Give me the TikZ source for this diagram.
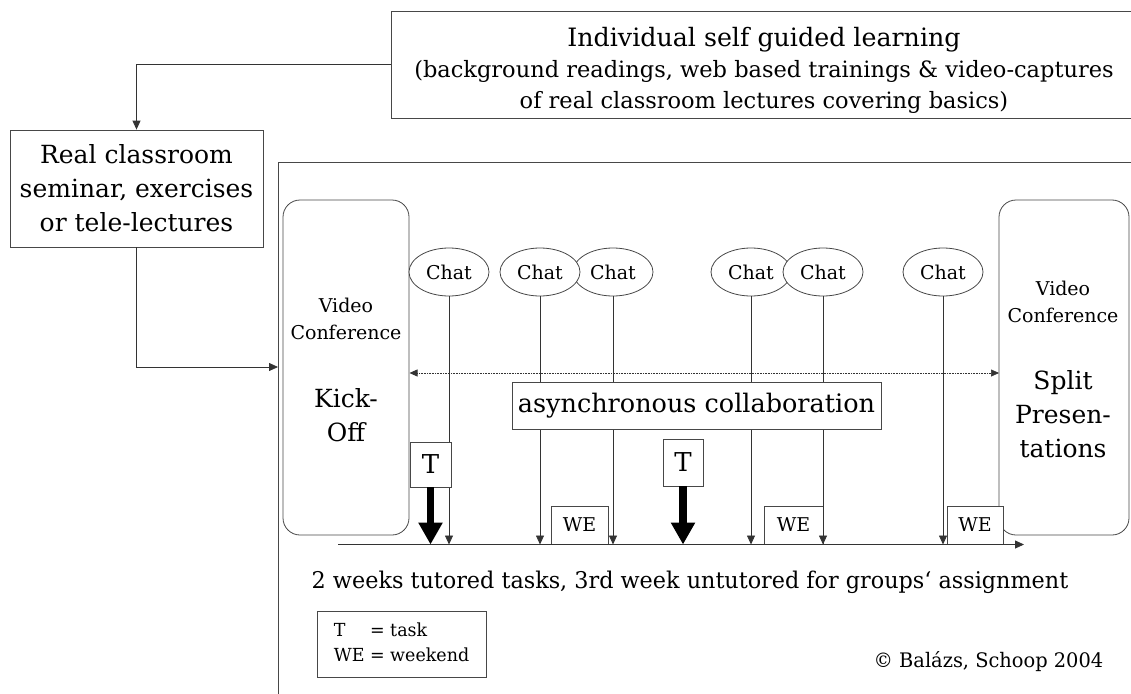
\documentclass[tikz,border=0pt]{standalone}
\usepackage{fontspec}
\setmainfont{DejaVu Serif}
\newfontfamily\condfont[FakeStretch=0.97]{DejaVu Serif}
\usetikzlibrary{shapes.geometric,arrows.meta}
\newcommand\fsz[2]{\fontsize{#1}{#2}\selectfont}
\begin{document}
\begin{tikzpicture}[x=1pt,y=-1pt,line width=0.8pt,
  box/.style={draw=black!72,fill=white,inner sep=0pt,align=center},
  rbox/.style={box,rounded corners=17pt},
  chat/.style={ellipse,draw=black!72,fill=white,minimum width=80pt,minimum height=48pt,inner sep=0pt,font=\fsz{19}{22}},
  conn/.style={draw=black!80,-{Triangle[length=9pt,width=8pt]}},
  bigarrow/.style={draw=black,line width=7.5pt,-{Triangle[length=22pt,width=23pt]}},
  dotarrow/.style={draw=black!80,densely dotted,line width=0.6pt,{Triangle[length=8pt,width=7pt]}-{Triangle[length=8pt,width=7pt]}},
  tbox/.style={box,font=\fsz{26}{30}},
  webox/.style={box,font=\fsz{19}{22}}]
\useasboundingbox (0,0) rectangle (1131,693);
\clip (0,0) rectangle (1131,693);
\fill[white] (0,0) rectangle (1131,693);

% top box
\node[box,minimum width=760pt,minimum height=107pt] (top) at (771,64.5) {};
\node[font=\fsz{22.5}{31},align=center] (toptext) at (764,70)
  {{\fsz{25.3}{31}Individual self guided learning}\\(background readings, web based trainings \& video-captures\\of real classroom lectures covering basics)};

% left box
\node[box,minimum width=253pt,minimum height=117pt,font=\fsz{25}{34}] (left) at (136.5,188.5)
  {Real classroom\\seminar, exercises\\or tele-lectures};

% main frame
\coordinate (mTL) at (278,162);
\coordinate (mBL) at (278,700);
\coordinate (mTR) at (1140,162);
\draw[draw=black!72] (mBL) -- (mTL) -- (mTR);
\coordinate (mainIn) at (278,367);

\draw[conn] (top.west) -| (left.north);
\draw[conn] (left.south) |- (mainIn);

% video conference boxes
\node[rbox,minimum width=126pt,minimum height=335pt] (kick) at (346,367.5) {};
\node[font=\fsz{19}{27},align=center] (kickvc) at (346,318.5) {Video\\Conference};
\node[font=\fsz{25}{34},align=center] (kicko) at (346,415) {Kick-\\Off};

\node[rbox,minimum width=130pt,minimum height=335pt] (split) at (1064,367.5) {};
\node[font=\fsz{19}{27},align=center] (splitvc) at (1063,301.5) {Video\\Conference};
\node[font=\fsz{25}{34},align=center] (splitp) at (1063,414) {Split\\Presen-\\tations};

% axis
\coordinate (axL) at (338,544.5);
\coordinate (axR) at (1024,544.5);

% weekend boxes
\node[webox,minimum width=57pt,minimum height=38pt] (we1) at (579.5,525) {WE};
\node[webox,minimum width=59pt,minimum height=38pt] (we2) at (793.5,525) {WE};
\node[webox,minimum width=56pt,minimum height=38pt] (we3) at (975,525) {WE};

% chats
\node[chat] (c1) at (449,272) {Chat};
\node[chat] (c3) at (613,272) {Chat};
\node[chat] (c2) at (540,272) {Chat};
\node[chat] (c4) at (751,272) {Chat};
\node[chat] (c5) at (823,272) {Chat};
\node[chat] (c6) at (943,272) {Chat};

\foreach \c in {c1,c2,c3,c4,c5,c6} \draw[conn] (\c) -- (\c |- axL);

\draw[conn] (axL) -- (axR);

% async
\node[box,minimum width=369pt,minimum height=47pt,font=\fsz{25.5}{30}] (async) at (696.5,405.5) {asynchronous collaboration};
\coordinate (dL) at (409.5,373);
\coordinate (dR) at (999,373);
\draw[dotarrow] (dL) -- (dR);

% tasks
\node[tbox,minimum width=41pt,minimum height=45pt] (t1) at (430.5,464.5) {T};
\node[tbox,minimum width=40pt,minimum height=47pt] (t2) at (683,462.5) {T};
\draw[bigarrow] (t1) -- (t1 |- axL);
\draw[bigarrow] (t2) -- (t2 |- axL);

% captions
\node[font=\condfont\fsz{23}{28},anchor=base west] (cap) at (308,588) {2 weeks tutored tasks, 3rd week untutored for groups‘ assignment};
\node[box,minimum width=169pt,minimum height=66pt,font=\condfont\fsz{18}{25}] (legend) at (401.5,644)
  {\begin{tabular}{@{}l@{ }l@{}}T & = task\\WE & = weekend\end{tabular}};
\node[font=\condfont\fsz{20}{24},anchor=base east] (copy) at (1107,667) {© Balázs, Schoop 2004};
\end{tikzpicture}
\end{document}
